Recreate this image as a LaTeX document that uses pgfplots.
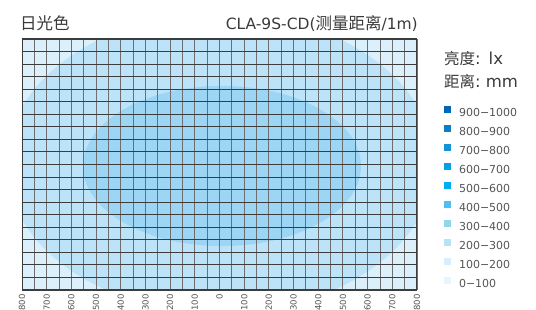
\documentclass[border=0pt]{standalone}
\usepackage{fontspec}
\setmainfont{DejaVu Sans}
\newfontfamily\cjk{Noto Sans CJK SC}
\usepackage{pgfplots}
\pgfplotsset{compat=1.18}
\definecolor{cA}{HTML}{0066B3}
\definecolor{cB}{HTML}{0A7FC6}
\definecolor{cC}{HTML}{1791D6}
\definecolor{cD}{HTML}{00A1E6}
\definecolor{cE}{HTML}{00AEEF}
\definecolor{cF}{HTML}{4CC1F0}
\definecolor{cG}{HTML}{96D3F3}
\definecolor{cH}{HTML}{B9E2F8}
\definecolor{cI}{HTML}{D9EEFA}
\definecolor{cJ}{HTML}{E8F5FD}
\definecolor{bg}{HTML}{DCF0FB}
\definecolor{mid}{HTML}{BCE3F8}
\definecolor{inn}{HTML}{9DD5F4}
\definecolor{gridv}{HTML}{6E6E70}
\definecolor{gridh}{HTML}{3C3C3C}
\definecolor{labc}{HTML}{555555}
\definecolor{titc}{HTML}{3A3A3A}
\begin{document}
\begin{tikzpicture}[x=1pt,y=1pt]
\path[use as bounding box] (0,0) rectangle (536,310);
\begin{axis}[
  at={(22pt,20pt)}, anchor=south west,
  scale only axis, width=395pt, height=251pt,
  xmin=-800, xmax=800, ymin=-500, ymax=500,
  axis background/.style={fill=bg},
  axis on top,
  xtick={-800,-700,...,800},
  xticklabels={800,700,600,500,400,300,200,100,0,100,200,300,400,500,600,700,800},
  minor xtick={-750,-650,...,750},
  ytick={-500,-450,...,500}, yticklabels={},
  major tick length=0pt, minor tick length=0pt,
  grid=both,
  major x grid style={draw=gridv, line width=0.9pt},
  minor x grid style={draw=gridv, line width=0.9pt},
  major y grid style={draw=gridh, line width=0.9pt},
  axis line style={draw=gridh, line width=1pt},
  /pgf/number format/assume math mode=true,
  xticklabel style={yshift=-4pt, rotate=90, anchor=east, inner sep=0pt,
    font=\fontsize{8.5}{8.5}\selectfont, text=labc},
  legend image code/.code={\fill[#1, draw=none] (0pt,0pt) rectangle (7pt,7pt);},
  legend style={at={(1.0684,0.735)}, anchor=north west, draw=none, fill=none,
    inner sep=0pt, outer sep=0pt, row sep=8pt, column sep=8pt,
    font=\fontsize{11}{11}\selectfont, text=labc,
    nodes={inner sep=0pt, text height=8pt, text depth=0pt}},
  legend cell align=left,
]
\fill[mid] (axis cs:2,5) ellipse [x radius=865, y radius=597];
\fill[inn] (axis cs:10,-6) ellipse [x radius=563, y radius=319];
\addlegendimage{fill=cA}\addlegendentry{900−1000}
\addlegendimage{fill=cB}\addlegendentry{800−900}
\addlegendimage{fill=cC}\addlegendentry{700−800}
\addlegendimage{fill=cD}\addlegendentry{600−700}
\addlegendimage{fill=cE}\addlegendentry{500−600}
\addlegendimage{fill=cF}\addlegendentry{400−500}
\addlegendimage{fill=cG}\addlegendentry{300−400}
\addlegendimage{fill=cH}\addlegendentry{200−300}
\addlegendimage{fill=cI}\addlegendentry{100−200}
\addlegendimage{fill=cJ}\addlegendentry{0−100}
\end{axis}
\node[anchor=base west, inner sep=0pt, text=titc, font=\fontsize{16.5}{16.5}\selectfont] at (20,280.5) {\cjk 日光色};
\node[anchor=base east, inner sep=0pt, text=titc, font=\fontsize{15.5}{15.5}\selectfont] at (418,280.5) {CLA-9S-CD({\cjk\fontsize{16.5}{16.5}\selectfont 测量距离}/1m)};
\node[anchor=base west, inner sep=0pt, text=titc, font=\fontsize{16.5}{16.5}\selectfont] at (444,245) {{\cjk\fontsize{15.5}{15.5}\selectfont 亮度}:\hspace{8pt}lx};
\node[anchor=base west, inner sep=0pt, text=titc, font=\fontsize{16.5}{16.5}\selectfont] at (444,222) {{\cjk\fontsize{15.5}{15.5}\selectfont 距离}:\hspace{5pt}mm};
\end{tikzpicture}
\end{document}
